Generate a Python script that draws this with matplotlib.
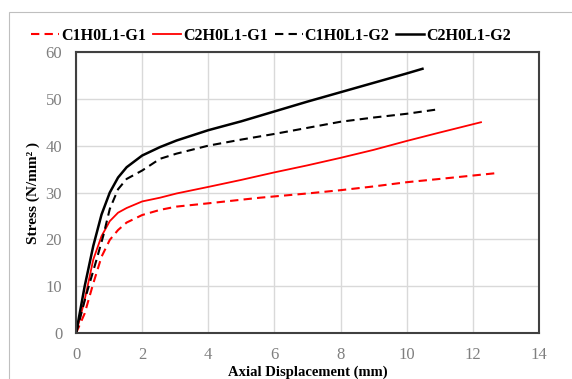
import matplotlib
matplotlib.use("Agg")
import matplotlib.pyplot as plt
from matplotlib.patches import Rectangle

plt.rcParams['font.family'] = ['Liberation Serif', 'DejaVu Serif']

# (displacement mm, stress N/mm2)
x_c1g1 = [0, 0.26, 0.52, 0.77, 1.02, 1.27, 1.53, 2.0, 2.54, 3.04, 4.0, 5.57, 7.0, 8.0, 9.0, 10.0, 11.0, 12.8]
y_c1g1 = [0, 4.2, 10.6, 16.3, 19.9, 22.0, 23.6, 25.2, 26.3, 27.0, 27.7, 28.9, 29.8, 30.5, 31.3, 32.2, 32.9, 34.2]

x_c2g1 = [0, 0.26, 0.52, 0.77, 1.02, 1.27, 1.53, 2.0, 2.54, 3.04, 4.0, 5.0, 6.0, 7.0, 8.0, 9.0, 10.0, 11.0, 12.25]
y_c2g1 = [0, 7.1, 15.7, 20.7, 23.9, 25.7, 26.7, 28.1, 28.9, 29.8, 31.2, 32.7, 34.3, 35.8, 37.4, 39.1, 41.0, 42.8, 45.0]

x_c1g2 = [0, 0.3, 0.62, 0.82, 1.02, 1.27, 1.53, 2.0, 2.54, 3.04, 4.0, 5.0, 6.0, 7.0, 8.0, 9.0, 10.0, 11.0]
y_c1g2 = [0, 8.0, 15.7, 20.7, 26.5, 30.7, 32.9, 34.7, 37.2, 38.3, 40.0, 41.3, 42.5, 43.8, 45.1, 46.0, 46.8, 47.8]

x_c2g2 = [0, 0.26, 0.52, 0.77, 1.02, 1.27, 1.53, 2.0, 2.54, 3.04, 4.0, 5.0, 6.0, 7.0, 8.0, 9.0, 10.0, 10.48]
y_c2g2 = [0, 10.0, 18.6, 25.3, 30.0, 33.2, 35.4, 37.9, 39.7, 41.1, 43.3, 45.2, 47.3, 49.4, 51.4, 53.4, 55.4, 56.4]

labels = ['C1H0L1-G1', 'C2H0L1-G1', 'C1H0L1-G2', 'C2H0L1-G2']

fig = plt.figure(figsize=(5.72, 3.79), dpi=100)
ax = fig.add_axes([0.133, 0.121, 0.809, 0.742])

# outer chart border
fig.patches.append(Rectangle((9 / 572, -0.1), 1.2, 1 - 12 / 379 + 0.1,
                             transform=fig.transFigure, fill=False,
                             edgecolor='#bfbfbf', lw=0.8))

ax.plot(x_c1g1, y_c1g1, color='red', ls=(0, (4, 2.5)), lw=1.5, label=labels[0])
ax.plot(x_c2g1, y_c2g1, color='red', ls='-', lw=1.3, label=labels[1])
ax.plot(x_c1g2, y_c1g2, color='black', ls=(0, (4, 2.5)), lw=1.5, label=labels[2])
ax.plot(x_c2g2, y_c2g2, color='black', ls='-', lw=1.8, label=labels[3])

ax.set_xlim(0, 14)
ax.set_ylim(0, 60)
ax.set_xticks(range(0, 15, 2))
ax.set_yticks(range(0, 61, 10))
ax.grid(True, color='#d9d9d9', lw=1.0)
ax.set_axisbelow(True)
ax.tick_params(length=0, labelsize=12, labelcolor='#7f7f7f')
ax.tick_params(axis='x', pad=10)
ax.tick_params(axis='y', pad=10)
for s in ax.spines.values():
    s.set_color('#404040')
    s.set_linewidth(1.5)

ax.set_xlabel('Axial Displacement (mm)', fontsize=10.5, fontweight='bold', labelpad=2)
ax.set_ylabel('Stress (N/mm² )', fontsize=11, fontweight='bold', labelpad=4)

fig.legend(loc='center', bbox_to_anchor=(0.474, 0.905), ncol=4, frameon=False,
           prop={'weight': 'bold', 'size': 11.5}, handlelength=1.75,
           handletextpad=0.1, columnspacing=0.45, borderaxespad=0)

fig.savefig('out.png', dpi=100)
